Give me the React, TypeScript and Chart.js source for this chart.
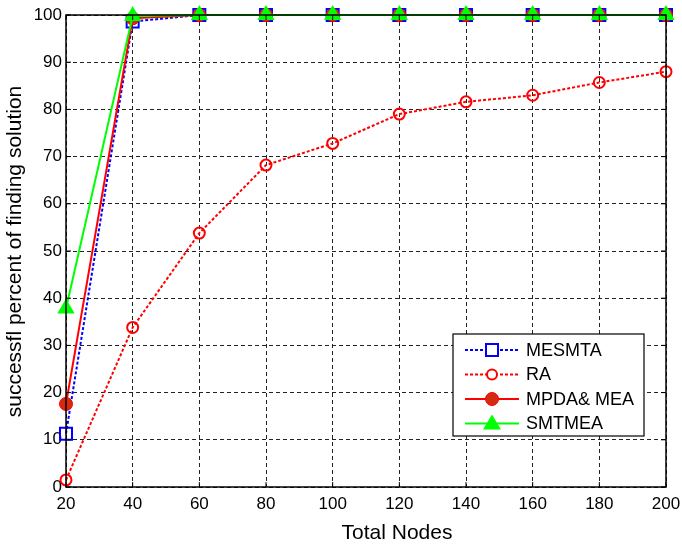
import React, { useEffect, useRef } from "react";
import { Chart, registerables } from "chart.js";

Chart.register(...registerables);

const nodes = [20, 40, 60, 80, 100, 120, 140, 160, 180, 200];
const mesmta = [11.3, 98.6, 100, 100, 100, 100, 100, 100, 100, 100];
const ra = [1.5, 33.8, 53.8, 68.2, 72.8, 79.0, 81.6, 83.0, 85.7, 88.0];
const mpda = [17.6, 99.3, 100, 100, 100, 100, 100, 100, 100, 100];
const smtmea = [37.8, 99.8, 100, 100, 100, 100, 100, 100, 100, 100];

const FONT = "'Liberation Sans', Arial, sans-serif";

const frameAndLegend = {
  id: "frameAndLegend",
  afterDatasetsDraw(chart: any) {
    const { ctx, chartArea: a, scales } = chart;
    ctx.save();
    ctx.strokeStyle = "#000";
    ctx.lineWidth = 1.5;
    ctx.setLineDash([]);
    ctx.strokeRect(a.left, a.top, a.right - a.left, a.bottom - a.top);
    ctx.lineWidth = 1;
    const tl = 5;
    scales.x.ticks.forEach((t: any) => {
      const x = scales.x.getPixelForValue(t.value);
      ctx.beginPath();
      ctx.moveTo(x, a.bottom);
      ctx.lineTo(x, a.bottom - tl);
      ctx.moveTo(x, a.top);
      ctx.lineTo(x, a.top + tl);
      ctx.stroke();
    });
    scales.y.ticks.forEach((t: any) => {
      const y = scales.y.getPixelForValue(t.value);
      ctx.beginPath();
      ctx.moveTo(a.left, y);
      ctx.lineTo(a.left + tl, y);
      ctx.moveTo(a.right, y);
      ctx.lineTo(a.right - tl, y);
      ctx.stroke();
    });
    ctx.restore();
  },
  afterDraw(chart: any) {
    const { ctx } = chart;
    ctx.save();
    // axis titles
    ctx.fillStyle = "#000";
    ctx.font = `21px ${FONT}`;
    ctx.textAlign = "center";
    ctx.textBaseline = "alphabetic";
    ctx.fillText("Total Nodes", 397, 539);
    ctx.translate(21, 251.5);
    ctx.rotate(-Math.PI / 2);
    ctx.fillText("successfl percent of finding solution", 0, 0);
    ctx.restore();

    // legend
    ctx.save();
    const lx = 453, ly = 334, lw = 191, lh = 102;
    ctx.fillStyle = "#fff";
    ctx.fillRect(lx, ly, lw, lh);
    ctx.strokeStyle = "#000";
    ctx.lineWidth = 1.2;
    ctx.strokeRect(lx, ly, lw, lh);
    const items = [
      { label: "MESMTA", color: "#0000ff", dash: [3, 2], marker: "rect" },
      { label: "RA", color: "#ff0000", dash: [3, 2], marker: "circleOpen" },
      { label: "MPDA& MEA", color: "#ff0000", dash: [], marker: "circleFill" },
      { label: "SMTMEA", color: "#00ff00", dash: [], marker: "tri" },
    ];
    items.forEach((it, i) => {
      const y = 350 + i * 24.5;
      ctx.strokeStyle = it.color;
      ctx.lineWidth = 2;
      ctx.setLineDash(it.dash);
      ctx.beginPath();
      ctx.moveTo(lx + 12, y);
      ctx.lineTo(lx + 66, y);
      ctx.stroke();
      ctx.setLineDash([]);
      const mx = lx + 39;
      if (it.marker === "rect") {
        ctx.fillStyle = "#fff";
        ctx.fillRect(mx - 6, y - 6, 12, 12);
        ctx.strokeRect(mx - 6, y - 6, 12, 12);
      } else if (it.marker === "circleOpen") {
        ctx.fillStyle = "#fff";
        ctx.beginPath();
        ctx.arc(mx, y, 5, 0, Math.PI * 2);
        ctx.fill();
        ctx.stroke();
      } else if (it.marker === "circleFill") {
        ctx.fillStyle = "#d42a10";
        ctx.beginPath();
        ctx.arc(mx, y, 6.5, 0, Math.PI * 2);
        ctx.fill();
        ctx.strokeStyle = "#ff0000";
        ctx.lineWidth = 1;
        ctx.stroke();
      } else {
        ctx.fillStyle = "#00ff00";
        ctx.beginPath();
        ctx.moveTo(mx, y - 9);
        ctx.lineTo(mx + 9, y + 6);
        ctx.lineTo(mx - 9, y + 6);
        ctx.closePath();
        ctx.fill();
      }
      ctx.fillStyle = "#000";
      ctx.font = `18px ${FONT}`;
      ctx.textAlign = "left";
      ctx.textBaseline = "middle";
      ctx.fillText(it.label, 526, y + 1);
    });
    ctx.restore();
  },
};

export default function App() {
  const ref = useRef<HTMLCanvasElement | null>(null);
  useEffect(() => {
    if (!ref.current) return;
    const chart = new Chart(ref.current, {
      type: "line",
      data: {
        datasets: [
          {
            label: "SMTMEA",
            data: nodes.map((x, i) => ({ x, y: smtmea[i] })),
            borderColor: "#00ff00",
            backgroundColor: "#00ff00",
            borderWidth: 2,
            pointStyle: "triangle",
            pointRadius: 10,
            pointBorderWidth: 0,
            clip: false as any,
            order: 0,
          },
          {
            label: "MPDA& MEA",
            data: nodes.map((x, i) => ({ x, y: mpda[i] })),
            borderColor: "#ff0000",
            backgroundColor: "#d42a10",
            pointBorderColor: "#ff0000",
            borderWidth: 2,
            pointStyle: "circle",
            pointRadius: 6.5,
            pointBorderWidth: 1,
            clip: false as any,
            order: 1,
          },
          {
            label: "RA",
            data: nodes.map((x, i) => ({ x, y: ra[i] })),
            borderColor: "#ff0000",
            backgroundColor: "rgba(255,255,255,0)",
            borderDash: [3, 2],
            borderWidth: 2,
            pointStyle: "circle",
            pointRadius: 5.5,
            pointBorderWidth: 2,
            clip: false as any,
            order: 2,
          },
          {
            label: "MESMTA",
            data: nodes.map((x, i) => ({ x, y: mesmta[i] })),
            borderColor: "#0000ff",
            backgroundColor: "rgba(255,255,255,0)",
            borderDash: [3, 2],
            borderWidth: 2,
            pointStyle: "rect",
            pointRadius: 8.5,
            pointBorderWidth: 2,
            clip: false as any,
            order: 3,
          },
        ],
      },
      options: {
        animation: false,
        responsive: false,
        maintainAspectRatio: false,
        layout: { padding: { top: 15, right: 16, left: 0, bottom: 0 } },
        plugins: { legend: { display: false }, tooltip: { enabled: false } },
        elements: { line: { tension: 0 } },
        scales: {
          x: {
            type: "linear",
            min: 20,
            max: 200,
            afterFit: (s: any) => { s.height = 58; s.paddingLeft = 0; s.paddingRight = 0; },
            ticks: { stepSize: 20, color: "#000", font: { family: FONT, size: 17 }, padding: 7, maxRotation: 0 },
            grid: { color: "#222", lineWidth: 1, drawTicks: false, tickLength: 0 },
            border: { display: false, dash: [4, 3] },
          },
          y: {
            min: 0,
            max: 100,
            afterFit: (s: any) => { s.width = 66; s.paddingTop = 0; s.paddingBottom = 0; },
            ticks: { stepSize: 10, color: "#000", font: { family: FONT, size: 17 }, padding: 4 },
            grid: { color: "#222", lineWidth: 1, drawTicks: false, tickLength: 0 },
            border: { display: false, dash: [4, 3] },
          },
        },
      },
      plugins: [frameAndLegend],
    });
    return () => chart.destroy();
  }, []);
  return (
    <div style={{ position: "fixed", left: 0, top: 0, width: 682, height: 545, background: "#fff" }}>
      <canvas ref={ref} width={682} height={545} style={{ width: 682, height: 545 }} />
    </div>
  );
}
